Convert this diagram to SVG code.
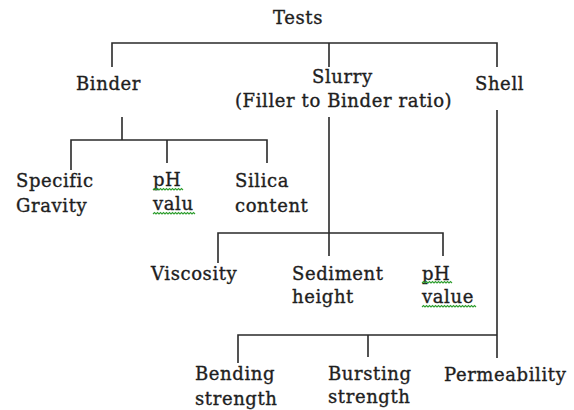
<svg xmlns="http://www.w3.org/2000/svg" width="574" height="410" viewBox="0 0 574 410">
<style>
text{font-family:"DejaVu Serif","Liberation Serif",serif;font-size:18px;letter-spacing:0.6px;fill:#1e1e1e;stroke:#1e1e1e;stroke-width:0.35}
.c{fill:none;stroke:#2a2a2a;stroke-width:1.6}
.sq{fill:none;stroke:#2f9e2f;stroke-width:1.1}
</style>
<rect width="574" height="410" fill="#fff"/>
<g id="connectors">
<path class="c" d="M112,67V43H497V67M329,43V67"/>
<path class="c" d="M122,117V140M71,170V140H267V163M167,140V163"/>
<path class="c" d="M329,117V256M218,263V233H443V256"/>
<path class="c" d="M497,110V358M238,363V335H497M368,335V357"/>
</g>
<g id="tests"><text x="273" y="24">Tests</text></g>
<g id="binder"><text x="76" y="90">Binder</text></g>
<g id="slurry"><text x="312" y="83">Slurry</text><text x="235" y="107">(Filler to Binder ratio)</text></g>
<g id="shell"><text x="475" y="90">Shell</text></g>
<g id="specific-gravity"><text x="16" y="187">Specific</text><text x="16" y="212">Gravity</text></g>
<g id="ph-binder"><text x="153" y="186">pH</text><text x="153" y="210">valu</text>
<path class="sq" d="M153,190 l1.5,-1.5 l1.5,1.5 l1.5,-1.5 l1.5,1.5 l1.5,-1.5 l1.5,1.5 l1.5,-1.5 l1.5,1.5 l1.5,-1.5 l1.5,1.5 l1.5,-1.5 l1.5,1.5 l1.5,-1.5 l1.5,1.5 l1.5,-1.5 l1.5,1.5 l1.5,-1.5 l1.5,1.5 l1.5,-1.5 l1.5,1.5"/>
<path class="sq" d="M153,214 l1.5,-1.5 l1.5,1.5 l1.5,-1.5 l1.5,1.5 l1.5,-1.5 l1.5,1.5 l1.5,-1.5 l1.5,1.5 l1.5,-1.5 l1.5,1.5 l1.5,-1.5 l1.5,1.5 l1.5,-1.5 l1.5,1.5 l1.5,-1.5 l1.5,1.5 l1.5,-1.5 l1.5,1.5 l1.5,-1.5 l1.5,1.5 l1.5,-1.5 l1.5,1.5 l1.5,-1.5 l1.5,1.5 l1.5,-1.5 l1.5,1.5 l1.5,-1.5 l1.5,1.5"/>
</g>
<g id="silica-content"><text x="235" y="187">Silica</text><text x="235" y="212">content</text></g>
<g id="viscosity"><text x="151" y="280">Viscosity</text></g>
<g id="sediment-height"><text x="292" y="280">Sediment</text><text x="292" y="303">height</text></g>
<g id="ph-slurry"><text x="422" y="280">pH</text><text x="422" y="303">value</text>
<path class="sq" d="M422,283 l1.5,-1.5 l1.5,1.5 l1.5,-1.5 l1.5,1.5 l1.5,-1.5 l1.5,1.5 l1.5,-1.5 l1.5,1.5 l1.5,-1.5 l1.5,1.5 l1.5,-1.5 l1.5,1.5 l1.5,-1.5 l1.5,1.5 l1.5,-1.5 l1.5,1.5 l1.5,-1.5 l1.5,1.5 l1.5,-1.5 l1.5,1.5"/>
<path class="sq" d="M422,307 l1.5,-1.5 l1.5,1.5 l1.5,-1.5 l1.5,1.5 l1.5,-1.5 l1.5,1.5 l1.5,-1.5 l1.5,1.5 l1.5,-1.5 l1.5,1.5 l1.5,-1.5 l1.5,1.5 l1.5,-1.5 l1.5,1.5 l1.5,-1.5 l1.5,1.5 l1.5,-1.5 l1.5,1.5 l1.5,-1.5 l1.5,1.5 l1.5,-1.5 l1.5,1.5 l1.5,-1.5 l1.5,1.5 l1.5,-1.5 l1.5,1.5 l1.5,-1.5 l1.5,1.5 l1.5,-1.5 l1.5,1.5 l1.5,-1.5 l1.5,1.5 l1.5,-1.5 l1.5,1.5 l1.5,-1.5 l1.5,1.5"/>
</g>
<g id="bending-strength"><text x="195" y="380">Bending</text><text x="195" y="405">strength</text></g>
<g id="bursting-strength"><text x="328" y="380">Bursting</text><text x="328" y="403">strength</text></g>
<g id="permeability"><text x="444" y="381">Permeability</text></g>
</svg>
